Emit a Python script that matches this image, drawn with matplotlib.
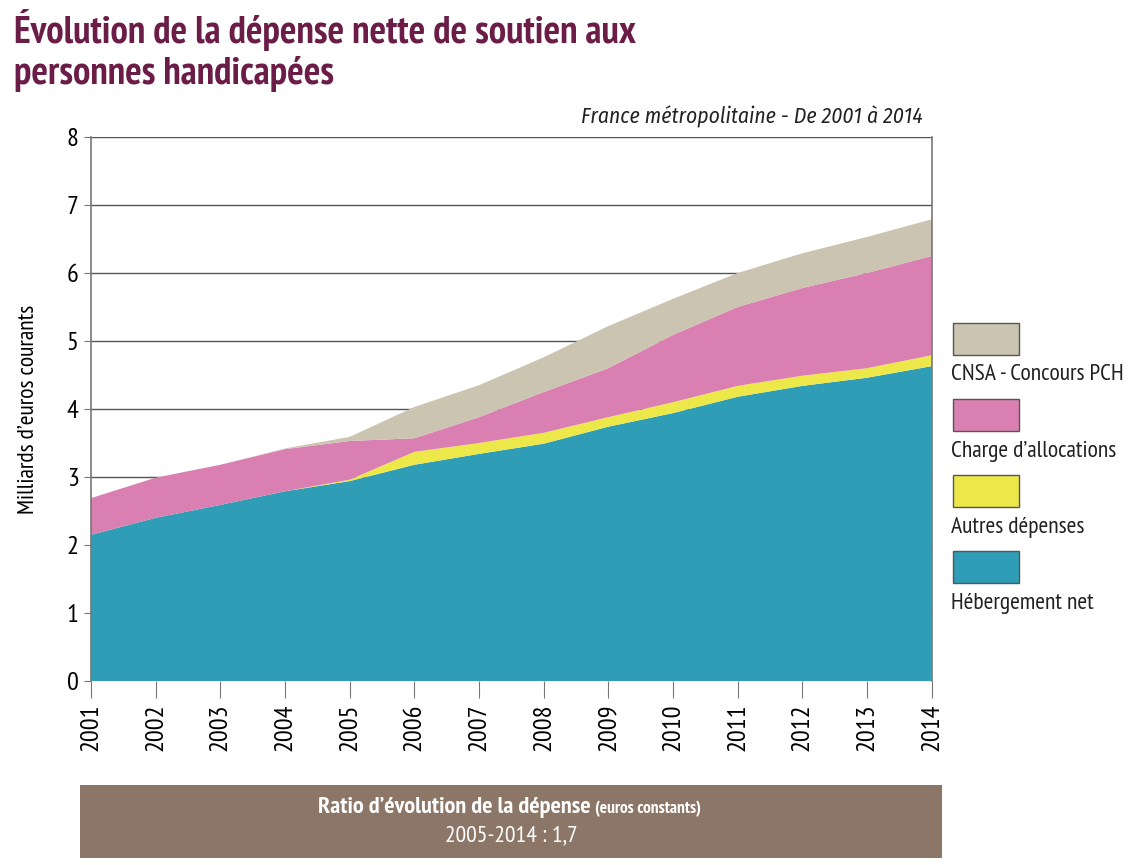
# -*- coding: utf-8 -*-
import numpy as np
import matplotlib
matplotlib.use('Agg')
from matplotlib import pyplot as plt
from matplotlib.patches import Rectangle

plt.rcParams['font.family'] = ['PT Sans Narrow', 'Fira Sans Condensed', 'Roboto Condensed',
                               'Archivo Narrow', 'Liberation Sans Narrow', 'DejaVu Sans']
italic_family = ['Fira Sans Condensed', 'Roboto Condensed', 'Archivo Narrow', 'DejaVu Sans']

# data (milliards d'euros courants), stacked layers
years = list(range(2001, 2015))
hebergement = [2.15, 2.40, 2.59, 2.79, 2.94, 3.18, 3.34, 3.49, 3.74, 3.94, 4.18, 4.34, 4.46, 4.63]
autres = [0, 0, 0, 0, 0.02, 0.19, 0.16, 0.16, 0.14, 0.16, 0.16, 0.15, 0.14, 0.16]
allocations = [0.54, 0.59, 0.59, 0.62, 0.57, 0.20, 0.38, 0.60, 0.72, 0.99, 1.16, 1.29, 1.40, 1.46]
cnsa = [0, 0, 0, 0.01, 0.06, 0.46, 0.47, 0.51, 0.62, 0.53, 0.50, 0.51, 0.53, 0.54]

labels = ['Hébergement net', 'Autres dépenses', "Charge d\u2019allocations", 'CNSA - Concours PCH']
colors = ['#2e9db5', '#ede84a', '#d97fb2', '#cbc4b1']

fig = plt.figure(figsize=(11.32, 8.65), dpi=100)
ax = fig.add_axes([0.0804, 0.2127, 0.7426, 0.6289])

for y in range(1, 9):
    ax.axhline(y, color='#555555', lw=1.0, zorder=0)
ax.stackplot(years, hebergement, autres, allocations, cnsa, colors=colors, zorder=2)

ax.set_xlim(2001, 2014)
ax.set_ylim(0, 8)
ax.set_yticks(range(0, 9))
ax.set_xticks(years)
ax.set_xticklabels([str(y) for y in years], rotation=90, fontsize=19)
ax.tick_params(axis='y', labelsize=19, length=5, color='#777777', pad=4)
ax.tick_params(axis='x', length=12, color='#777777', pad=4)
for s in ['top', 'bottom']:
    ax.spines[s].set_visible(False)
for s in ['left', 'right']:
    ax.spines[s].set_color('#777777')
    ax.spines[s].set_linewidth(1.2)
ax.set_ylabel("Milliards d\u2019euros courants", fontsize=17, labelpad=20)

# title
fig.text(0.012, 0.965, "Évolution de la dépense nette de soutien aux", fontsize=28,
         fontweight='bold', color='#6b1d47', va='center')
fig.text(0.012, 0.915, "personnes handicapées", fontsize=28,
         fontweight='bold', color='#6b1d47', va='center')
fig.text(0.815, 0.865, "France métropolitaine - De 2001 à 2014", fontsize=15.5,
         style='italic', family=italic_family, ha='right', va='center', color='#222222')

# legend (patches above labels)
leg_items = list(zip(labels, colors))[::-1]
for i, (lab, col) in enumerate(leg_items):
    top = 323 + i * 76
    fig.patches.append(Rectangle((953 / 1132, 1 - (top + 32) / 865), 66 / 1132, 32 / 865,
                                 transform=fig.transFigure, facecolor=col,
                                 edgecolor='#555555', lw=1.0))
    fig.text(951 / 1132, 1 - (top + 52) / 865, lab, fontsize=17, va='center', color='#222222')

# bottom box
fig.patches.append(Rectangle((80 / 1132, 1 - 858 / 865), 862 / 1132, 73 / 865,
                             transform=fig.transFigure, facecolor='#8b7667', edgecolor='none'))
fig.text(0.522, 1 - 807 / 865, "Ratio d\u2019évolution de la dépense", fontsize=17.5,
         fontweight='bold', color='white', ha='right', va='center')
fig.text(0.526, 1 - 809 / 865, "(euros constants)", fontsize=12.5,
         fontweight='bold', color='white', ha='left', va='center')
fig.text(0.4515, 1 - 836 / 865, "2005-2014 : 1,7", fontsize=17,
         color='white', ha='center', va='center')

fig.savefig('out.png', dpi=100)
